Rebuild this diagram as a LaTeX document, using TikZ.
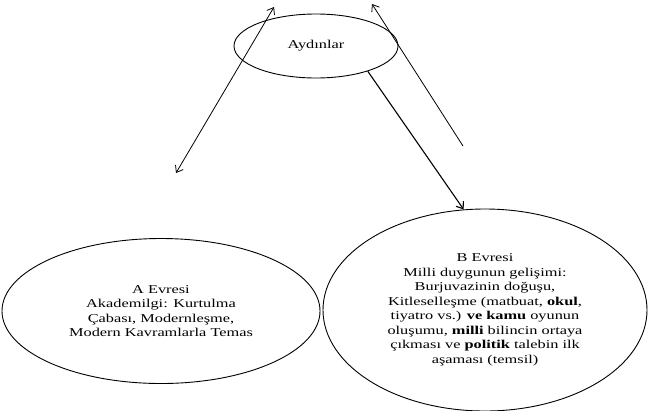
\documentclass[tikz,border=0pt]{standalone}
\usepackage{fontspec}
\setmainfont[FakeStretch=1.36]{Liberation Serif}
\usetikzlibrary{shapes.geometric,arrows.meta}
\begin{document}
\begin{tikzpicture}[x=1bp,y=-1bp,
  >={Straight Barb[length=6bp,width=9bp]},
  oval/.style={ellipse, draw, line width=0.9bp, inner sep=0pt, align=center,
    font=\fontsize{12bp}{14.5bp}\selectfont},
  conn/.style={line width=0.8bp}
]
\useasboundingbox (0,0) rectangle (648,410);
\node[oval, minimum width=164bp, minimum height=64bp] (ayd) at (316,46) {Aydınlar};
\node[oval, minimum width=318bp, minimum height=145bp] (A) at (161,311)
  {A Evresi\\Akademilgi: Kurtulma\\Çabası, Modernleşme,\\Modern Kavramlarla Temas};
\node[oval, minimum width=324bp, minimum height=202bp] (B) at (485,310)
  {B Evresi\\Milli duygunun gelişimi:\\Burjuvazinin doğuşu,\\Kitleselleşme (matbuat, \textbf{okul},\\tiyatro vs.) \textbf{ve kamu} oyunun\\oluşumu, \textbf{milli} bilincin ortaya\\çıkması ve \textbf{politik} talebin ilk\\aşaması (temsil)};
\coordinate (l1) at (176,173);
\coordinate (l2) at (274,7);
\coordinate (r1) at (463,146);
\coordinate (r2) at (372,4);
\draw[conn, <->] (l1) -- (l2);
\draw[conn, ->] (r1) -- (r2);
\draw[conn, line width=1.1bp, ->] (ayd.-26) -- (B.102);
\end{tikzpicture}
\end{document}
